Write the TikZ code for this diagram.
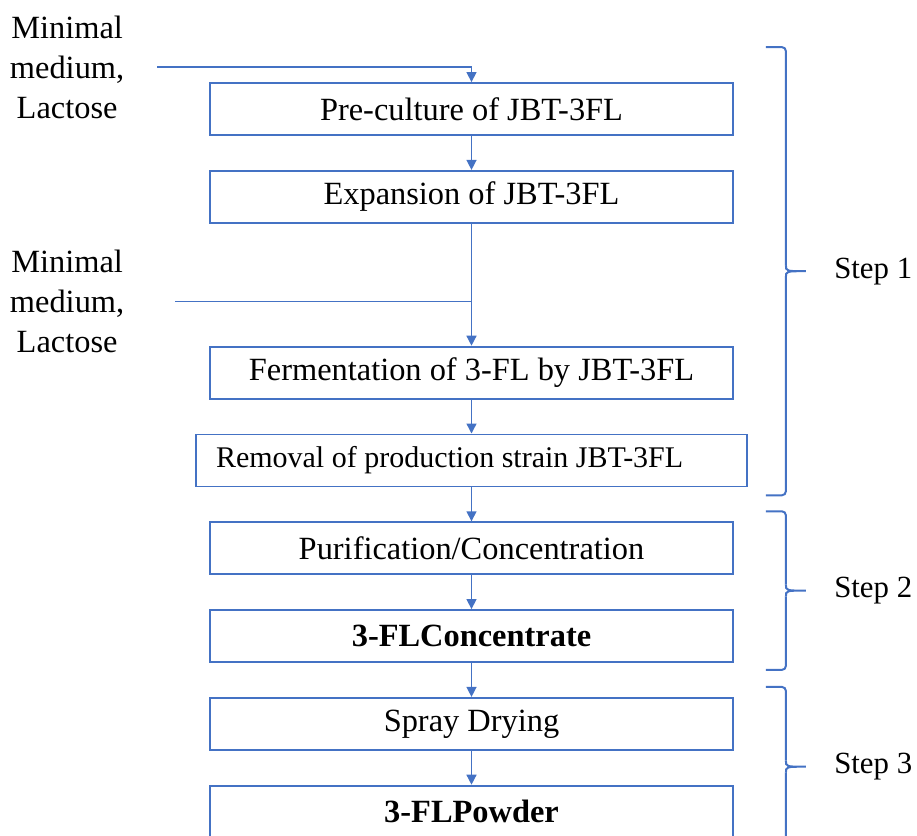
\documentclass[tikz,border=0pt]{standalone}
\usepackage{fontspec}
\setmainfont{Liberation Serif}
\usetikzlibrary{arrows.meta,positioning,calc}
\definecolor{flowblue}{HTML}{4472C4}

\begin{document}
\begin{tikzpicture}[font=\fontsize{16.2}{20}\selectfont,>={Triangle[width=5pt,length=5pt]},
  b/.style={draw=flowblue,line width=0.9pt,minimum width=261.5pt,minimum height=26pt,inner sep=2pt,align=center},
  inp/.style={align=center,inner sep=0pt},
  arr/.style={->,draw=flowblue,line width=0.7pt},
  brl/.style={draw=flowblue,line width=1pt},
  stp/.style={inner sep=0pt,font=\fontsize{15.4}{18}\selectfont}]
  \clip (0,0) rectangle (458.5pt,-418pt);
  % process chain
  \node[b] (pre) at (235.75pt,-54.5pt) {Pre-culture of JBT-3FL};
  \node[b,below=17pt of pre] (exp) {Expansion of JBT-3FL};
  \node[b,below=61pt of exp] (ferm) {Fermentation of 3-FL by JBT-3FL};
  \node[b,below=17pt of ferm,text width=255.5pt,inner xsep=10pt,align=flush left,
    font=\fontsize{15}{18}\selectfont] (rem) {Removal of production strain JBT-3FL};
  \node[b,below=17pt of rem] (pur) {Purification/Concentration};
  \node[b,below=17pt of pur] (conc) {\textbf{3-FLConcentrate}};
  \node[b,below=17pt of conc] (spray) {Spray Drying};
  \node[b,below=17pt of spray] (pow) {\textbf{3-FLPowder}};
  \draw[arr] (pre) -- (exp);
  \draw[arr] (exp) -- (ferm);
  \draw[arr] (ferm) -- (rem);
  \draw[arr] (rem) -- (pur);
  \draw[arr] (pur) -- (conc);
  \draw[arr] (conc) -- (spray);
  \draw[arr] (spray) -- (pow);
  % feeds
  \node[inp] (in1) at ($(pre.north west)+(-71pt,7.5pt)$) {Minimal\\medium,\\Lactose};
  \node[inp] (in2) at ($(ferm.north west)+(-71pt,22pt)$) {Minimal\\medium,\\Lactose};
  \coordinate (in1e) at ($(in1.center)+(45pt,0)$);
  \coordinate (in2e) at ($(in2.center)+(54pt,0)$);
  \coordinate (j2) at (exp.south |- in2e);
  \draw[arr] (in1e) -| (pre.north);
  \draw[arr,-] (in2e) -- (j2);
  % steps
  \coordinate (s1top) at ($(pre.north east)+(16pt,17.5pt)$);
  \coordinate (s1bot) at ($(pre.east |- rem.south)+(16pt,-4pt)$);
  \coordinate (s2top) at ($(pur.north east)+(16pt,5pt)$);
  \coordinate (s2bot) at ($(conc.south east)+(16pt,-3.5pt)$);
  \coordinate (s3top) at ($(spray.north east)+(16pt,5pt)$);
  \coordinate (s3bot) at ($(pow.south east)+(16pt,-4pt)$);
  \foreach \t/\b/\n in {s1top/s1bot/1,s2top/s2bot/2,s3top/s3bot/3}{
    \coordinate (m\n) at ($(\t)!0.5!(\b)$);
    \draw[brl,rounded corners=2pt] (\t) -- ($(\t)+(10pt,0)$) -- ($(m\n)+(10pt,3pt)$);
    \draw[brl,rounded corners=2pt] ($(m\n)+(10pt,-3pt)$) -- ($(\b)+(10pt,0)$) -- (\b);
    \draw[brl,line join=miter] ($(m\n)+(10pt,3pt)$) .. controls ($(m\n)+(10pt,0)$) .. ($(m\n)+(20pt,0)$)
      .. controls ($(m\n)+(10pt,0)$) .. ($(m\n)+(10pt,-3pt)$);
    \node[stp,anchor=west] (st\n) at ($(m\n)+(34pt,0)$) {Step \n};
  }
\end{tikzpicture}
\end{document}
